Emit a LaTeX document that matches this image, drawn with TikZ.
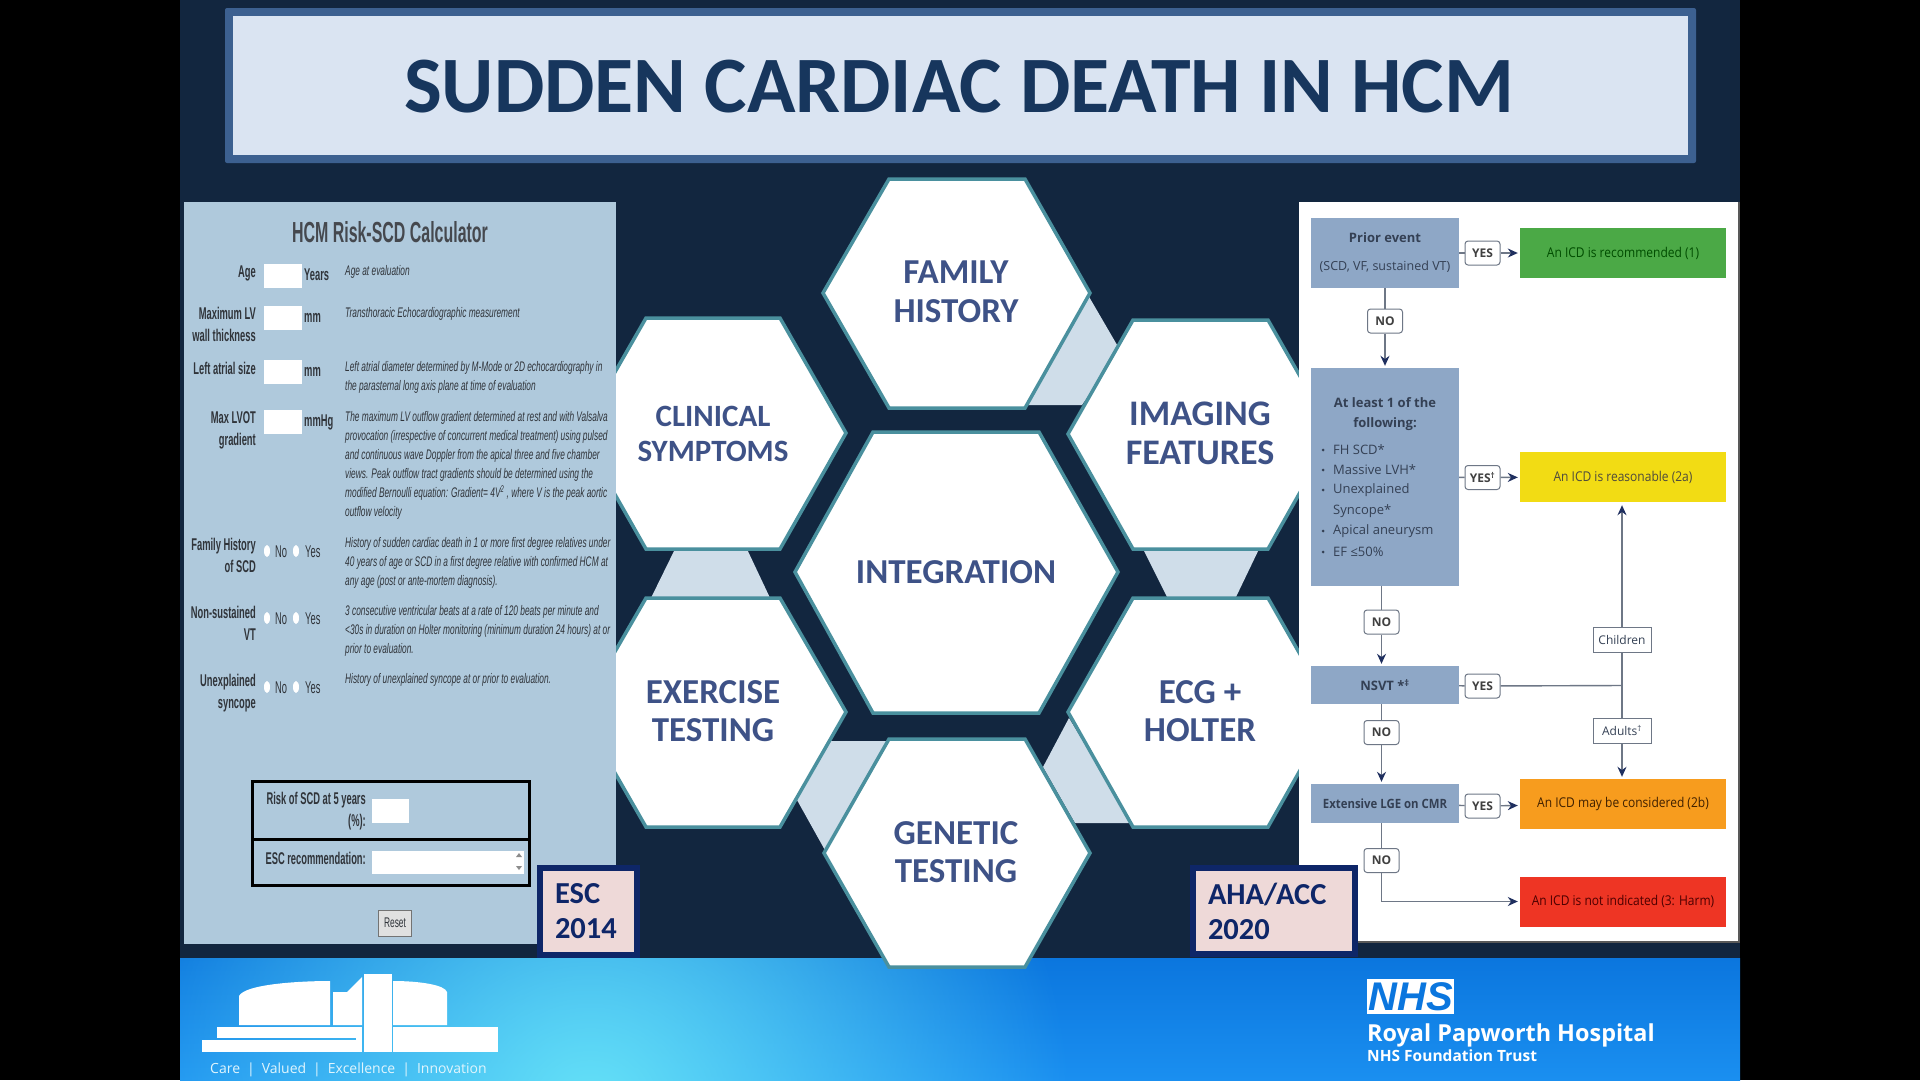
\documentclass[tikz,border=0pt]{standalone}
\usepackage{fontspec}
\usetikzlibrary{arrows.meta,positioning,calc,fadings}
\setmainfont{Carlito}
\newfontfamily\calcsans[FakeStretch=0.6]{Liberation Sans}
\newfontfamily\calcbold[FakeStretch=0.55]{Liberation Sans}
\newfontfamily\logosans{Liberation Sans}
\newfontfamily\flowsans{Open Sans}
\newfontfamily\flownarrow[FakeStretch=0.89]{Open Sans}
\definecolor{slidenavy}{HTML}{12263F}
\definecolor{titleink}{HTML}{17365D}
\definecolor{titlefill}{HTML}{DAE4F2}
\definecolor{titlerule}{HTML}{3C6090}
\definecolor{hexrule}{HTML}{4A909E}
\definecolor{hexink}{HTML}{3E5287}
\definecolor{wedge}{HTML}{CFDDE9}
\definecolor{calcpanel}{HTML}{AFC9DC}
\definecolor{calcink}{HTML}{30343A}
\definecolor{flowbox}{HTML}{8EA7C6}
\definecolor{flowink}{HTML}{344054}
\definecolor{flowline}{HTML}{6E7786}
\definecolor{flowtip}{HTML}{1F2F5F}
\definecolor{recgreen}{HTML}{4BA946}
\definecolor{recyellow}{HTML}{F2DC14}
\definecolor{recorange}{HTML}{F79C1E}
\definecolor{recred}{HTML}{EE3524}
\definecolor{badgerule}{HTML}{0E2668}
\definecolor{badgefill}{HTML}{EED9D8}
\definecolor{foottop}{HTML}{0B76DE}
\definecolor{footbot}{HTML}{1A8FF0}
\definecolor{footglow}{HTML}{66E2F7}
\tikzfading[name=glowfade,inner color=transparent!0,outer color=transparent!100]
\tikzset{
  hexcell/.style={fill=white,draw=hexrule,line width=3.5pt,line join=miter},
  hexlabel/.style={text=hexink,align=center,font=\bfseries\fontsize{35}{38.5}\selectfont,inner sep=0pt},
  calclabel/.style={text=calcink,align=right,anchor=east,inner sep=0pt,font=\calcbold\bfseries\fontsize{17}{22}\selectfont},
  calcunit/.style={text=calcink,anchor=west,inner sep=0pt,font=\calcbold\bfseries\fontsize{17}{22}\selectfont},
  calcdesc/.style={text=calcink,align=left,anchor=north west,inner sep=0pt,font=\calcsans\itshape\fontsize{13.9}{19}\selectfont},
  radiotext/.style={text=calcink,anchor=west,inner sep=0pt,font=\calcbold\fontsize{17}{22}\selectfont},
  flowstep/.style={fill=flowbox,text=flowink,inner sep=0pt,align=center,font=\flowsans\fontsize{12.5}{20}\selectfont},
  flowtext/.style={text=flowink,inner sep=0pt,font=\flowsans\fontsize{13}{20}\selectfont},
  flowtag/.style={fill=white,draw=flowline,line width=1pt,rounded corners=3pt,minimum width=35pt,minimum height=24pt,inner sep=0pt,text=black!75,font=\flowsans\bfseries\fontsize{12}{14}\selectfont},
  flowcase/.style={fill=white,draw=flowline,line width=1pt,minimum width=58pt,minimum height=25pt,inner sep=0pt,text=flowink,font=\flowsans\fontsize{12}{14}\selectfont},
  flowrec/.style={minimum width=206pt,minimum height=50pt,inner sep=0pt,font=\flownarrow\fontsize{13.5}{16}\selectfont},
  flowlink/.style={draw=flowline,line width=1.4pt},
  flowarrow/.style={flowlink,-{Stealth[length=10pt,width=9pt,color=flowtip]},shorten >=2pt},
  badgebox/.style={fill=badgefill,draw=badgerule,line width=6pt,outer sep=0pt,anchor=north west,inner ysep=0pt,inner xsep=15pt,text=badgerule,align=left,font=\bfseries\fontsize{30.5}{35}\selectfont},
}
\begin{document}
\begin{tikzpicture}[x=1pt,y=-1pt]
\useasboundingbox (0,0) rectangle (1920,1080);
% slide ground
\fill[black] (0,0) rectangle (1920,1080);
\fill[slidenavy] (180,0) rectangle (1740,958);
% footer band
\shade[top color=foottop,bottom color=footbot] (180,958) rectangle (1740,1080);
\begin{scope}
\clip (180,958) rectangle (1740,1080);
\fill[footglow,path fading=glowfade] (590,1110) circle (480pt);
\end{scope}
% title bar
\fill[titlerule,rounded corners=2pt] (225,8) rectangle (1696,163);
\fill[titlefill] (233,16) rectangle (1688,155);
\node[text=titleink,inner sep=0pt,font=\bfseries\fontsize{80}{90}\selectfont] (slidetitle) at (959,87) {SUDDEN CARDIAC DEATH IN HCM};

% pale wedges between the hexagons
\fill[wedge] (1088,295) -- (1120,350) -- (1082,405) -- (1026,405) -- cycle;
\fill[wedge] (676,547) -- (746,547) -- (771,600) -- (650,600) -- cycle;
\fill[wedge] (1142,547) -- (1260,547) -- (1236,597) -- (1167,597) -- cycle;
\fill[wedge] (830,741) -- (890,741) -- (826,852) -- (797,800) -- cycle;
\fill[wedge] (1069,718) -- (1043,767) -- (1075,823) -- (1132,823) -- cycle;

% hexagons
\draw[hexcell] (823,293) -- (889,179) -- (1025,179) -- (1090,293) -- (1025,408) -- (889,408) -- cycle;
\draw[hexcell] (1068,434) -- (1133,320) -- (1268,320) -- (1333,434) -- (1268,549) -- (1133,549) -- cycle;
\draw[hexcell] (580,433) -- (646,318) -- (780,318) -- (846,433) -- (780,549) -- (646,549) -- cycle;
\draw[hexcell] (795,572) -- (873,432) -- (1039,432) -- (1118,572) -- (1039,713) -- (873,713) -- cycle;
\draw[hexcell] (580,712) -- (646,598) -- (780,598) -- (846,712) -- (780,827) -- (646,827) -- cycle;
\draw[hexcell] (1068,712) -- (1133,598) -- (1268,598) -- (1333,712) -- (1268,827) -- (1133,827) -- cycle;
\draw[hexcell] (824,853) -- (889,739) -- (1025,739) -- (1090,853) -- (1025,967) -- (889,967) -- cycle;
\node[hexlabel] (familyhist) at (956,292) {FAMILY\\HISTORY};
\node[hexlabel,font=\bfseries\fontsize{31}{35}\selectfont] (clinical) at (713,434) {CLINICAL\\SYMPTOMS};
\node[hexlabel,font=\bfseries\fontsize{36}{39}\selectfont] (imaging) at (1200,433) {IMAGING\\FEATURES};
\node[hexlabel] (integration) at (956,572) {INTEGRATION};
\node[hexlabel] (exercise) at (713,711) {EXERCISE\\TESTING};
\node[hexlabel] (ecgholter) at (1200,711) {ECG +\\HOLTER};
\node[hexlabel] (genetic) at (956,852) {GENETIC\\TESTING};

% calculator panel
\fill[calcpanel] (184,202) rectangle (616,944);
\node[text=calcink!90,inner sep=0pt,font=\calcbold\bfseries\fontsize{29}{30}\selectfont] (calctitle) at (390,232) {HCM Risk-SCD Calculator};
% input fields
\foreach \fy in {264,306,360,410}
  \fill[white] (264,\fy) rectangle (302,\fy+24);
\fill[white] (372,799) rectangle (409,823);
\fill[white] (372,851) rectangle (524,874);
\node[calclabel] (lblage) at (256,273) {Age};
\node[calclabel] (lblwall) at (256,324) {Maximum LV\\wall thickness};
\node[calclabel] (lblatrial) at (256,368) {Left atrial size};
\node[calclabel] (lbllvot) at (256,430) {Max LVOT\\gradient};
\node[calclabel] (lblfam) at (256,555) {Family History\\of SCD};
\node[calclabel] (lblnsvt) at (256,623) {Non-sustained\\VT};
\node[calclabel] (lblsync) at (256,693) {Unexplained\\syncope};
\node[calcunit] (unityears) at (304,275) {Years};
\node[calcunit] (unitwall) at (304,318) {mm};
\node[calcunit] (unitatrial) at (304,372) {mm};
\node[calcunit] (unitlvot) at (304,422) {mmHg};
% radio buttons
\foreach \ry in {551,618,687}{
  \fill[white] (267,\ry) ellipse (3pt and 6pt);
  \fill[white] (296,\ry) ellipse (3pt and 6pt);
  \node[radiotext] (no\ry) at (275,\ry+1) {No};
  \node[radiotext] (yes\ry) at (305,\ry+1) {Yes};
}
\node[calcdesc] (descage) at (345,265) {Age at evaluation};
\node[calcdesc] (descwall) at (345,307) {Transthoracic Echocardiographic measurement};
\node[calcdesc] (descatrial) at (345,361) {Left atrial diameter determined by M-Mode or 2D echocardiography in\\the parasternal long axis plane at time of evaluation};
\node[calcdesc] (desclvot) at (345,411) {The maximum LV outflow gradient determined at rest and with Valsalva\\provocation (irrespective of concurrent medical treatment) using pulsed\\and continuous wave Doppler from the apical three and five chamber\\views. Peak outflow tract gradients should be determined using the\\modified Bernoulli equation: Gradient= 4V\textsuperscript{2} , where V is the peak aortic\\outflow velocity};
\node[calcdesc] (descfam) at (345,537) {History of sudden cardiac death in 1 or more first degree relatives under\\40 years of age or SCD in a first degree relative with confirmed HCM at\\any age (post or ante-mortem diagnosis).};
\node[calcdesc] (descnsvt) at (345,605) {3 consecutive ventricular beats at a rate of 120 beats per minute and\\<30s in duration on Holter monitoring (minimum duration 24 hours) at or\\prior to evaluation.};
\node[calcdesc] (descsync) at (345,673) {History of unexplained syncope at or prior to evaluation.};
% result table
\draw[black,line width=3pt] (252,781) rectangle (529,885);
\draw[black,line width=3pt] (252,839) -- (529,839);
\node[calclabel] (lblrisk) at (366,811) {Risk of SCD at 5 years\\(\%):};
\node[calclabel] (lblesc) at (366,858) {ESC recommendation:};
\fill[black!45] (516,857) -- (519,853) -- (522,857) -- cycle;
\fill[black!45] (516,866) -- (519,870) -- (522,866) -- cycle;
\node[fill=black!12,draw=black!55,line width=1pt,minimum width=33pt,minimum height=26pt,inner sep=0pt,text=calcink,font=\calcsans\fontsize{14}{16}\selectfont] (resetbtn) at (395,923) {Reset};

% guideline panel
\fill[white] (1299,202) rectangle (1738,941);
\fill[black!65] (1738,202) rectangle (1740,943);
\fill[black!65] (1299,941) rectangle (1740,943);
\node[flowstep,minimum width=148pt,minimum height=70pt] (prior) at (1385,253) {{\bfseries\fontsize{13}{20}\selectfont Prior event}\\[8pt](SCD, VF, sustained VT)};
\node[flowstep,minimum width=148pt,minimum height=218pt] (atleast) at (1385,477) {};
\node[flowtext,align=center,font=\flowsans\bfseries\fontsize{13}{20}\selectfont] (atleasthead) at (1385,414) {At least 1 of the\\following:};
\foreach \ly/\ltext [count=\li] in {450/FH SCD*,470/Massive LVH*,490/Unexplained,511/Syncope*,531/Apical aneurysm,552/EF ≤50\%}
  \node[flowtext,anchor=west] (risk\li) at (1333,\ly) {\ltext};
\foreach \by in {450,470,490,531,552}
  \fill[flowink] (1323,\by) circle (1.5pt);
\node[flowstep,minimum width=148pt,minimum height=38pt,font=\flowsans\bfseries\fontsize{13}{16}\selectfont] (nsvt) at (1385,685) {NSVT *\textsuperscript{‡}};
\node[flowstep,minimum width=148pt,minimum height=39pt,font=\flownarrow\bfseries\fontsize{12.8}{16}\selectfont] (lge) at (1385,803.5) {Extensive LGE on CMR};
\node[flowrec,fill=recgreen,text=green!30!black] (recone) at (1623,253) {An ICD is recommended (1)};
\node[flowrec,fill=recyellow,text=yellow!20!black] (rectwoa) at (1623,477) {An ICD is reasonable (2a)};
\node[flowrec,fill=recorange,text=orange!25!black] (rectwob) at (1623,804) {An ICD may be considered (2b)};
\node[flowrec,fill=recred,text=red!30!black] (recthree) at (1623,901.5) {An ICD is not indicated (3: Harm)};
\node[flowtag] (yesa) at (1482.5,253) {YES};
\node[flowtag] (yesb) at (1482.5,477.5) {YES\textsuperscript{†}};
\node[flowtag] (yesc) at (1482.5,686) {YES};
\node[flowtag] (yesd) at (1482.5,806) {YES};
\node[flowtag] (noa) at (1385,321) {NO};
\node[flowtag] (nob) at (1381.5,622) {NO};
\node[flowtag] (noc) at (1381.5,732.5) {NO};
\node[flowtag] (nod) at (1381.5,860.5) {NO};
\node[flowcase] (children) at (1622,639.5) {Children};
\node[flowcase] (adults) at (1622,730.5) {Adults\textsuperscript{†}};
\coordinate (casejoin) at (1622,685.5);
\coordinate (noturn) at (nod |- recthree);
% flow connectors
\draw[flowlink] (prior) -- (yesa);
\draw[flowarrow] (yesa) -- (recone);
\draw[flowlink] (prior) -- (noa);
\draw[flowarrow] (noa) -- (atleast);
\draw[flowlink] (atleast) -- (yesb);
\draw[flowarrow] (yesb) -- (rectwoa);
\draw[flowlink] (nob |- atleast.south) -- (nob);
\draw[flowarrow] (nob) -- (nob |- nsvt.north);
\draw[flowlink] (nob |- nsvt.south) -- (noc);
\draw[flowarrow] (noc) -- (noc |- lge.north);
\draw[flowlink] (nod |- lge.south) -- (nod);
\draw[flowlink] (nod) -- (noturn);
\draw[flowarrow] (noturn) -- (recthree);
\draw[flowlink] (nsvt) -- (yesc);
\draw[flowlink] (yesc) -- (casejoin);
\draw[flowlink] (casejoin) -- (children);
\draw[flowarrow,shorten >=3pt] (children) -- (children |- rectwoa.south);
\draw[flowlink] (casejoin) -- (adults);
\draw[flowarrow] (adults) -- (adults |- rectwob.north);
\draw[flowlink] (lge) -- (yesd);
\draw[flowarrow] (yesd) -- (rectwob);

% badges
\node[badgebox,minimum width=97pt,minimum height=87pt,text width=67pt] (badgeesc) at (540,868) {ESC\\2014};
\node[badgebox,minimum width=162pt,minimum height=86pt,text width=132pt] (badgeaha) at (1193,868) {AHA/ACC\\2020};

% hospital logo
\fill[white] (239,1025) -- (239,996) .. controls (245,984) and (300,981) .. (330,981) -- (330,1025) -- cycle;
\fill[white] (333,1025) -- (333,992) -- (347,992) -- (362,977) -- (362,1025) -- cycle;
\fill[white] (364,974) rectangle (392,1052);
\fill[white] (393,1025) -- (393,981) .. controls (420,981) and (445,985) .. (447,992) -- (447,1025) -- cycle;
\fill[white] (217,1027) rectangle (356,1038);
\fill[white] (202,1040) rectangle (356,1052);
\fill[white] (356,1027) rectangle (362,1052);
\fill[white] (393,1027) rectangle (498,1052);
\node[text=cyan!12,anchor=west,inner sep=0pt,font=\flowsans\fontsize{14}{16}\selectfont] (strapline) at (210,1069.5) {Care\hspace{7pt}|\hspace{7pt}Valued\hspace{7pt}|\hspace{7pt}Excellence\hspace{7pt}|\hspace{7pt}Innovation};
% trust logo
\node[fill=white,text=foottop,minimum width=87pt,minimum height=35pt,inner sep=0pt,anchor=north west,font=\logosans\bfseries\itshape\fontsize{40}{40}\selectfont] (nhslogo) at (1367,979) {NHS};
\node[text=white,anchor=west,inner sep=0pt,font=\flowsans\bfseries\fontsize{23.4}{28}\selectfont] (trustname) at (1367,1035) {Royal Papworth Hospital};
\node[text=white,anchor=west,inner sep=0pt,font=\flowsans\bfseries\fontsize{15.5}{18}\selectfont] (trustsub) at (1367,1056) {NHS Foundation Trust};
\end{tikzpicture}
\end{document}
